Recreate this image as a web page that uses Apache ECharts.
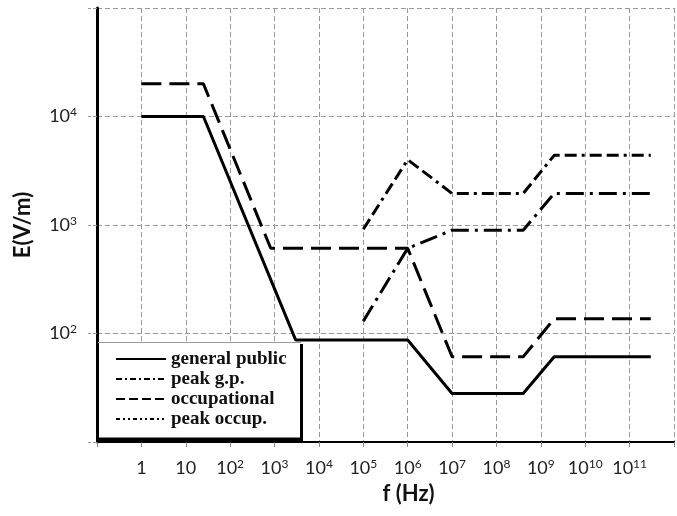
<!DOCTYPE html>
<html>
<head>
<meta charset="utf-8">
<script src="https://cdn.jsdelivr.net/npm/echarts@6/dist/echarts.min.js"></script>
<style>html,body{margin:0;padding:0;background:#fff}#c{width:677px;height:516px}</style>
</head>
<body>
<div id="c"></div>
<script>
// Frequencies in Hz, field strengths in V/m
const gpFreq = [1, 25, 3000, 1e6, 1e7, 4e8, 2e9, 3e11];
const gpE = [10000, 10000, 87, 87, 28, 28, 61, 61];
const occFreq = [1, 25, 820, 1e6, 1e7, 4e8, 2e9, 3e11];
const occE = [20000, 20000, 610, 610, 61, 61, 137, 137];
const peakGpFreq = [1e5, 1e6, 1e7, 4e8, 2e9, 3e11];
const peakGpE = [130, 610, 896, 896, 1952, 1952];
const peakOccFreq = [1e5, 1e6, 1e7, 4e8, 2e9, 3e11];
const peakOccE = [915, 4000, 1952, 1952, 4384, 4384];
const seriesNames = ['general public', 'peak g.p.', 'occupational', 'peak occup.'];
const xTickExps = [-1,0,1,2,3,4,5,6,7,8,9,10,11,12];
const yLabelExps = [2,3,4];

function pts(f, e){ return f.map((v,i)=>[Math.log10(v), Math.log10(e[i])]); }

const chart = echarts.init(document.getElementById('c'), null, {renderer:'canvas'});
const labelFont = 'Lato';
const rich = {
  n:{fontFamily:labelFont, fontSize:18, color:'#222', lineHeight:20},
  s:{fontFamily:labelFont, fontSize:12, color:'#222', verticalAlign:'top', lineHeight:20, padding:[0,0,7,0]}
};
function fmtX(v){
  if (v < 0 || v > 11) return '';
  if (v === 0) return '{n|1}';
  if (v === 1) return '{n|10}';
  return '{n|10}{s|' + v + '}';
}
function fmtY(v){
  if (yLabelExps.indexOf(v) < 0) return '';
  return '{n|10}{s|' + v + '}';
}
const grey = '#9a9a9a';
function mk(name, f, e, type, w){
  return {name:name, type:'line', data:pts(f,e), symbol:'none', showSymbol:false,
    itemStyle:{color:'#000'},
    lineStyle:{color:'#000', width:w, type:type}, z:3, animation:false};
}
const hidden = {color:'rgba(0,0,0,0)', borderWidth:0, opacity:0};
chart.setOption({
  animation:false,
  grid:{left:97, right:-6, top:8, bottom:74, containLabel:false},
  xAxis:{type:'value', min:xTickExps[0], max:xTickExps[xTickExps.length-1], interval:1,
    axisLine:{onZero:false, lineStyle:{color:'#000', width:2}},
    axisTick:{show:true, length:5, lineStyle:{color:'#888'}},
    splitLine:{show:true, lineStyle:{color:grey, type:[5,3], width:1}},
    axisLabel:{formatter:fmtX, rich:rich, margin:16},
    name:'f (Hz)', nameLocation:'middle', nameGap:41,
    nameTextStyle:{fontFamily:labelFont, fontWeight:'bold', fontSize:22, color:'#111', padding:[0,0,0,46]}
  },
  yAxis:{type:'value', min:1, max:5, interval:1,
    axisLine:{show:true, onZero:false, lineStyle:{color:'#000', width:3}},
    axisTick:{show:true, length:9, lineStyle:{color:grey, type:[4,2]}},
    splitLine:{show:true, lineStyle:{color:grey, type:[5,3], width:1}},
    axisLabel:{formatter:fmtY, rich:rich, margin:20},
    name:'E(V/m)', nameLocation:'middle', nameGap:63,
    nameTextStyle:{fontFamily:labelFont, fontWeight:'bold', fontSize:22, color:'#111'}
  },
  legend:{orient:'vertical', left:115, top:349, padding:0, itemGap:0, itemWidth:50, itemHeight:14, z:20,
    itemStyle:hidden,
    textStyle:{fontFamily:'Liberation Serif', fontWeight:'bold', fontSize:19, color:'#111', lineHeight:20},
    data:[
      {name:seriesNames[0], itemStyle:hidden, lineStyle:{width:2, color:'#000', type:'solid'}},
      {name:seriesNames[1], itemStyle:hidden, lineStyle:{width:2, color:'#000', type:[6,3,2,3]}},
      {name:seriesNames[2], itemStyle:hidden, lineStyle:{width:2, color:'#000', type:[9,4]}},
      {name:seriesNames[3], itemStyle:hidden, lineStyle:{width:2, color:'#000', type:[4,3,2,3,2,3]}}
    ]},
  graphic:[
    {type:'rect', z:10, shape:{x:99, y:342, width:203, height:99}, style:{fill:'#fff'}},
    {type:'line', z:11, shape:{x1:98, y1:342.5, x2:301, y2:342.5}, style:{stroke:'#999', lineWidth:1}},
    {type:'line', z:11, shape:{x1:301.5, y1:344, x2:301.5, y2:442}, style:{stroke:'#000', lineWidth:3}},
    {type:'line', z:11, shape:{x1:97, y1:440, x2:303, y2:440}, style:{stroke:'#000', lineWidth:5}}
  ],
  series:[
    mk(seriesNames[0], gpFreq, gpE, 'solid', 3),
    mk(seriesNames[1], peakGpFreq, peakGpE, [18,6,3,6], 3),
    mk(seriesNames[2], occFreq, occE, [20,8], 3),
    mk(seriesNames[3], peakOccFreq, peakOccE, [12,5,12,5,3,5], 3)
  ]
});
</script>
</body>
</html>
